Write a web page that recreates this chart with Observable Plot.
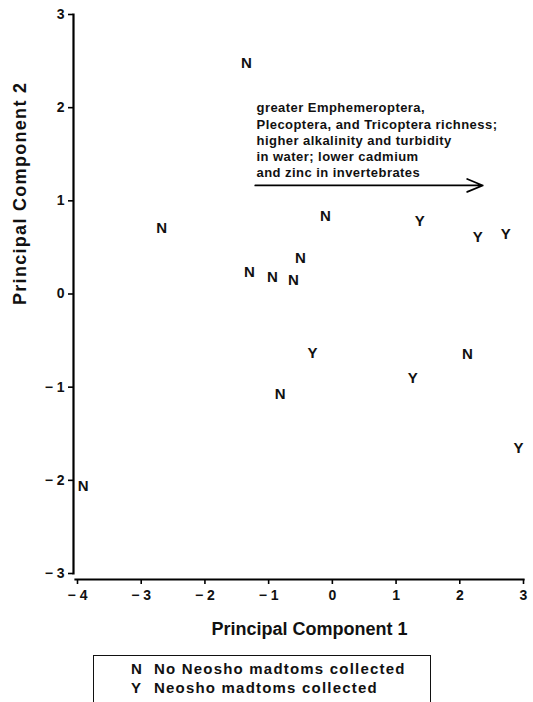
<!DOCTYPE html>
<html>
<head>
<meta charset="utf-8">
<script src="https://cdn.jsdelivr.net/npm/d3@7"></script>
<script src="https://cdn.jsdelivr.net/npm/@observablehq/plot@0.6"></script>
<style>
  html, body { margin: 0; padding: 0; background: #fff; overflow: hidden; }
  body { width: 533px; height: 702px; font-family: "Liberation Sans", Arial, sans-serif; }
  #legend {
    position: absolute; left: 93px; top: 655px; width: 338px; height: 50px;
    border: 1.8px solid #111; border-bottom: none; box-sizing: border-box;
    font-family: "Liberation Sans", Arial, sans-serif; font-weight: bold; font-size: 15px;
    letter-spacing: 1.2px; color: #111;
  }
  #legend .row { position: absolute; left: 0; white-space: nowrap; }
  #legend .key { position: absolute; left: 37px; }
  #legend .lab { position: absolute; left: 60px; }
</style>
</head>
<body>
<div id="chart"></div>
<div id="legend"></div>
<script>
// --- data ---
const pc1 = [-1.35, -2.68, -1.30, -0.94, -0.61, -0.50, -0.11, 1.37, 2.28, 2.72, -0.31, -0.82, 1.26, 2.12, 2.92, -3.91];
const pc2 = [2.48, 0.71, 0.23, 0.18, 0.145, 0.38, 0.83, 0.78, 0.61, 0.64, -0.63, -1.07, -0.90, -0.65, -1.65, -2.06];
const collected = ["N", "N", "N", "N", "N", "N", "N", "Y", "Y", "Y", "Y", "N", "Y", "N", "Y", "N"];

const xTicks = [-4, -3, -2, -1, 0, 1, 2, 3];
const yTicks = [-3, -2, -1, 0, 1, 2, 3];

const annotationLines = [
  "greater Emphemeroptera,",
  "Plecoptera, and Tricoptera richness;",
  "higher alkalinity and turbidity",
  "in water; lower cadmium",
  "and zinc in invertebrates"
];
const arrowSpec = [{x1: -1.21, y1: 1.165, x2: 2.36, y2: 1.165}];

const legendKeys = ["N", "Y"];
const legendLabels = ["No Neosho madtoms collected", "Neosho madtoms collected"];

const xTitle = "Principal Component 1";
const yTitle = "Principal Component 2";

// --- build ---
const points = pc1.map((x, i) => ({x, y: pc2[i], code: collected[i]}));
const fmt = d => d < 0 ? "\u2212 " + Math.abs(d) : String(d);
const font = "'Liberation Sans', Arial, sans-serif";

const chart = Plot.plot({
  width: 533,
  height: 650,
  marginTop: 14,
  marginLeft: 73,
  marginRight: 10,
  marginBottom: 71,
  style: {fontFamily: font, color: "#111", background: "#fff"},
  x: {domain: [-4, 3], insetLeft: 4},
  y: {domain: [-3, 3], insetBottom: 6},
  marks: [
    Plot.frame({anchor: "left", insetBottom: 6, strokeWidth: 2.2, stroke: "#000", strokeOpacity: 1}),
    Plot.frame({anchor: "bottom", insetLeft: 2, strokeWidth: 2.2, stroke: "#000", strokeOpacity: 1}),
    Plot.axisY({ticks: yTicks, tickSize: 5, tickPadding: 4, tickFormat: fmt, label: null,
      fontSize: 14, fontWeight: "bold", strokeWidth: 1.6, stroke: "#000"}),
    Plot.axisX({ticks: xTicks, tickSize: 5, tickPadding: 6, tickFormat: fmt, label: null,
      fontSize: 14, fontWeight: "bold", strokeWidth: 1.6, stroke: "#000"}),
    Plot.text([xTitle], {frameAnchor: "bottom", text: d => d, dx: 11, dy: 55,
      fontSize: 18, fontWeight: "bold", fill: "#111"}),
    Plot.text([yTitle], {frameAnchor: "left", text: d => d, rotate: -90, dx: -53, dy: 8,
      fontSize: 18, fontWeight: "bold", fill: "#111"}),
    Plot.text(points, {x: "x", y: "y", text: "code", fontSize: 15, fontWeight: "bold", fill: "#111"}),
    Plot.text([annotationLines.join("\n")], {x: () => -1.19, y: () => 2.073, text: d => d,
      textAnchor: "start", lineAnchor: "top", lineHeight: 1.25, fontSize: 13, fontWeight: "bold",
      fill: "#111"}),
    Plot.arrow(arrowSpec, {x1: "x1", y1: "y1", x2: "x2", y2: "y2", stroke: "#000",
      strokeWidth: 1.8, headLength: 14, headAngle: 45})
  ]
});
document.getElementById("chart").appendChild(chart);

// letter spacing tweaks for the scanned-type look
chart.querySelectorAll("text").forEach(t => {
  const s = t.textContent;
  if (s.includes("Emphemeroptera")) t.setAttribute("letter-spacing", "0.45");
  else if (s === yTitle) t.setAttribute("letter-spacing", "1.3");
});

// legend
const legend = document.getElementById("legend");
legendKeys.forEach((k, i) => {
  const row = document.createElement("div");
  row.className = "row";
  row.style.top = (4 + i * 19) + "px";
  row.innerHTML = `<span class="key">${k}</span><span class="lab">${legendLabels[i]}</span>`;
  legend.appendChild(row);
});
</script>
</body>
</html>
